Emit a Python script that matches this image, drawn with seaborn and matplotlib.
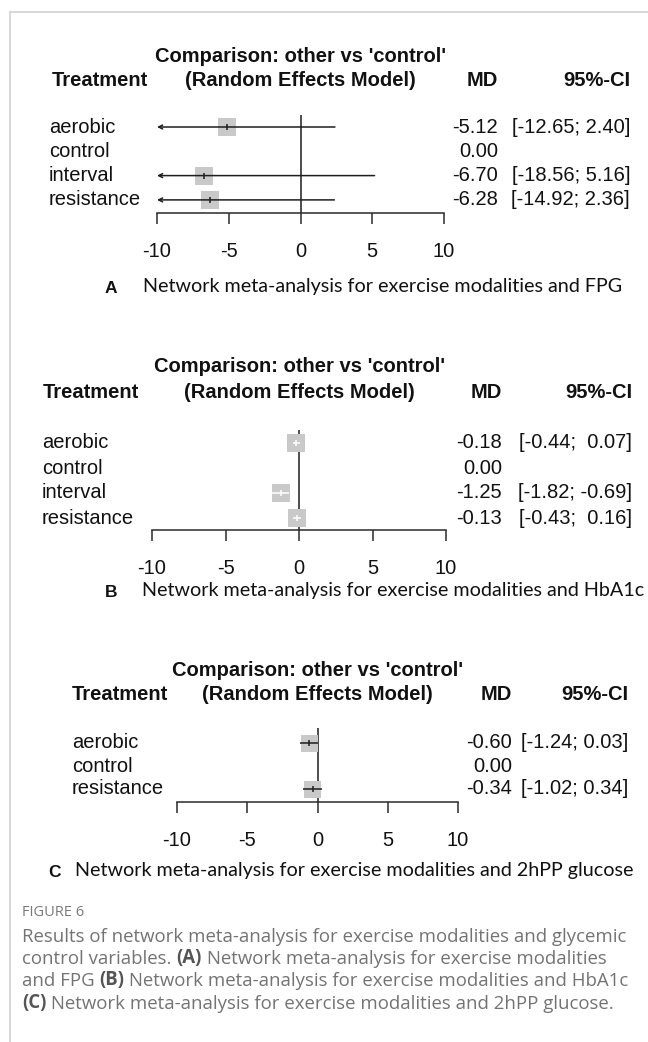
import numpy as np
import pandas as pd
import matplotlib
matplotlib.use("Agg")
import matplotlib.pyplot as plt
import seaborn as sns
from matplotlib.lines import Line2D
from matplotlib.transforms import blended_transform_factory

sns.set_theme(style="white")
plt.rcParams['font.family'] = ['Liberation Sans', 'DejaVu Sans']
plt.rcParams['axes.unicode_minus'] = False

# ---------------- data ----------------
treat_A = ["aerobic", "control", "interval", "resistance"]
md_A = [-5.12, 0.00, -6.70, -6.28]
lo_A = [-12.65, 0.00, -18.56, -14.92]
hi_A = [2.40, 0.00, 5.16, 2.36]

treat_B = ["aerobic", "control", "interval", "resistance"]
md_B = [-0.18, 0.00, -1.25, -0.13]
lo_B = [-0.44, 0.00, -1.82, -0.43]
hi_B = [0.07, 0.00, -0.69, 0.16]

treat_C = ["aerobic", "control", "resistance"]
md_C = [-0.60, 0.00, -0.34]
lo_C = [-1.24, 0.00, -1.02]
hi_C = [0.03, 0.00, 0.34]

x_ticks = [-10, -5, 0, 5, 10]
reference = "control"

title_1 = "Comparison: other vs 'control'"
title_2 = "(Random Effects Model)"
captions = [
    ("A", "Network meta-analysis for exercise modalities and FPG"),
    ("B", "Network meta-analysis for exercise modalities and HbA1c"),
    ("C", "Network meta-analysis for exercise modalities and 2hPP glucose"),
]

# ---------------- layout ----------------
W, H = 648, 1042
fig = plt.figure(figsize=(W / 100, H / 100), dpi=100)
fig.patch.set_facecolor("white")

def fx(x):
    return x / W

def fy(y):
    return 1 - y / H

FS = 14.5
BOX_COLOR = "#c9c9c9"
LINE_COLOR = "#1e1e1e"

panels = [
    dict(treat=treat_A, md=md_A, lo=lo_A, hi=hi_A, x0=157, x1=444, top=115, row0=127, step=24.3,
         axis=213, t1=57, t2=80, lab=49, tr=52, mdx=498, cix=630, cap_y=286, cap_x=143, let_x=117, box=18),
    dict(treat=treat_B, md=md_B, lo=lo_B, hi=hi_B, x0=152, x1=446, top=430, row0=443, step=25.0,
         axis=530, t1=367, t2=393, lab=42, tr=43, mdx=502, cix=632, cap_y=590, cap_x=142, let_x=117, box=18),
    dict(treat=treat_C, md=md_C, lo=lo_C, hi=hi_C, x0=177, x1=458, top=728, row0=743, step=23.0,
         axis=802, t1=670, t2=695, lab=72, tr=72, mdx=512, cix=628, cap_y=870, cap_x=75, let_x=61, box=17),
]

for (letter, cap), p in zip(captions, panels):
    ax = fig.add_axes([fx(p["x0"]), fy(p["axis"]), (p["x1"] - p["x0"]) / W, (p["axis"] - p["top"]) / H])
    n = len(p["treat"])
    df = pd.DataFrame(dict(treat=p["treat"], md=p["md"], lo=p["lo"], hi=p["hi"], row=np.arange(n)))
    nonref = df[df.treat != reference]

    px_per_unit = (p["x1"] - p["x0"]) / 20.0
    box_units = p["box"] / px_per_unit
    box_s = (p["box"] * 72 / 100) ** 2

    ax.axvline(0, color=LINE_COLOR, lw=1.1, zorder=1)
    sns.scatterplot(data=nonref, x="md", y="row", marker="s", s=box_s, color=BOX_COLOR,
                    edgecolor="none", linewidth=0, ax=ax, zorder=2, legend=False)
    for _, r in nonref.iterrows():
        col = "white" if (r.hi - r.lo) < box_units else LINE_COLOR
        lo = max(r.lo, x_ticks[0])
        if r.lo < x_ticks[0]:
            ax.annotate("", xy=(x_ticks[0], r.row), xytext=(r.hi, r.row),
                        arrowprops=dict(arrowstyle="->", lw=1.1, color=col, mutation_scale=7,
                                        shrinkA=0, shrinkB=0), zorder=3)
        else:
            ax.plot([lo, r.hi], [r.row, r.row], color=col, lw=1.1, zorder=3, solid_capstyle="butt")
        ax.plot([r.md], [r.row], marker="|", markersize=5, mew=1.1, color=col, zorder=4)

    ax.set_xlim(x_ticks[0], x_ticks[-1])
    ax.set_ylim((p["axis"] - p["row0"]) / p["step"], (p["top"] - p["row0"]) / p["step"])
    ax.set_xticks(x_ticks)
    ax.set_xticklabels([str(t) for t in x_ticks])
    ax.set_yticks([])
    ax.set_xlabel("")
    ax.set_ylabel("")
    for s in ["left", "top", "right"]:
        ax.spines[s].set_visible(False)
    ax.spines["bottom"].set_color("#2a2a2a")
    ax.spines["bottom"].set_linewidth(1.1)
    ax.tick_params(axis="x", bottom=True, direction="out", length=8, width=1.1, color="#2a2a2a",
                   pad=13, labelsize=FS, labelcolor="#111111")
    ax.patch.set_alpha(0)

    # header texts
    cx = (p["x0"] + p["x1"]) / 2
    fig.text(fx(cx), fy(p["t1"]), title_1, ha="center", va="center", fontsize=FS, fontweight="bold", color="#111")
    fig.text(fx(cx), fy(p["t2"]), title_2, ha="center", va="center", fontsize=FS, fontweight="bold", color="#111")
    fig.text(fx(p["tr"]), fy(p["t2"]), "Treatment", ha="left", va="center", fontsize=FS, fontweight="bold", color="#111")
    fig.text(fx(p["mdx"]), fy(p["t2"]), "MD", ha="right", va="center", fontsize=FS, fontweight="bold", color="#111")
    fig.text(fx(p["cix"]), fy(p["t2"]), "95%-CI", ha="right", va="center", fontsize=FS, fontweight="bold", color="#111")

    # row texts
    tr = blended_transform_factory(fig.transFigure, ax.transData)
    lo_w = max(len(f"{v:.2f}") for v in nonref.lo)
    hi_w = max(len(f"{v:.2f}") for v in nonref.hi)
    for _, r in df.iterrows():
        ax.text(fx(p["lab"]), r.row, r.treat, transform=tr, ha="left", va="center", fontsize=FS, color="#111")
        ax.text(fx(p["mdx"]), r.row, f"{r.md:.2f}", transform=tr, ha="right", va="center", fontsize=FS, color="#111")
        if r.treat != reference:
            ci = "[" + f"{r.lo:.2f}".rjust(lo_w) + "; " + f"{r.hi:.2f}".rjust(hi_w) + "]"
            ax.text(fx(p["cix"]), r.row, ci, transform=tr, ha="right", va="center", fontsize=FS, color="#111")

    # panel caption
    fig.text(fx(p["let_x"]), fy(p["cap_y"] + 7), letter, ha="right", va="baseline", fontsize=12.5,
             fontweight="bold", color="#111", family=["Liberation Sans", "DejaVu Sans"])
    fig.text(fx(p["cap_x"]), fy(p["cap_y"] + 6), cap, ha="left", va="baseline", fontsize=14.2,
             color="#111", family=["Lato", "DejaVu Sans"])

# ---------------- figure caption ----------------
GREY = "#737373"
DARK = "#555555"
CAP_FS = 13.45
fig.text(fx(22), fy(913), "FIGURE 6", ha="left", va="center", fontsize=10.5, color="#7a7a7a",
         family=["Open Sans", "DejaVu Sans"])

cap_lines = [
    [("Results of network meta-analysis for exercise modalities and glycemic", False)],
    [("control variables. ", False), ("(A)", True), (" Network meta-analysis for exercise modalities", False)],
    [("and FPG ", False), ("(B)", True), (" Network meta-analysis for exercise modalities and HbA1c", False)],
    [("(C)", True), (" Network meta-analysis for exercise modalities and 2hPP glucose.", False)],
]
line_y = [937, 959, 981, 1003]
for segs, yy in zip(cap_lines, line_y):
    last = None
    for s, bold in segs:
        kw = dict(fontsize=CAP_FS, color=DARK if bold else GREY, fontweight="bold" if bold else "normal",
                  family=["Open Sans", "DejaVu Sans"])
        if last is None:
            last = fig.text(fx(22), fy(yy), s, ha="left", va="center", **kw)
        else:
            last = fig.add_artist(matplotlib.text.Annotation(s, xy=(1, 0), xycoords=last,
                                                             ha="left", va="bottom", **kw))

# ---------------- border lines ----------------
fig.add_artist(Line2D([fx(10), 1], [fy(12), fy(12)], transform=fig.transFigure, color="#d2d2d2", lw=1.2))
fig.add_artist(Line2D([fx(10), fx(10)], [fy(12), 0], transform=fig.transFigure, color="#d2d2d2", lw=1.2))

fig.savefig("out.png", dpi=100, facecolor="white")
